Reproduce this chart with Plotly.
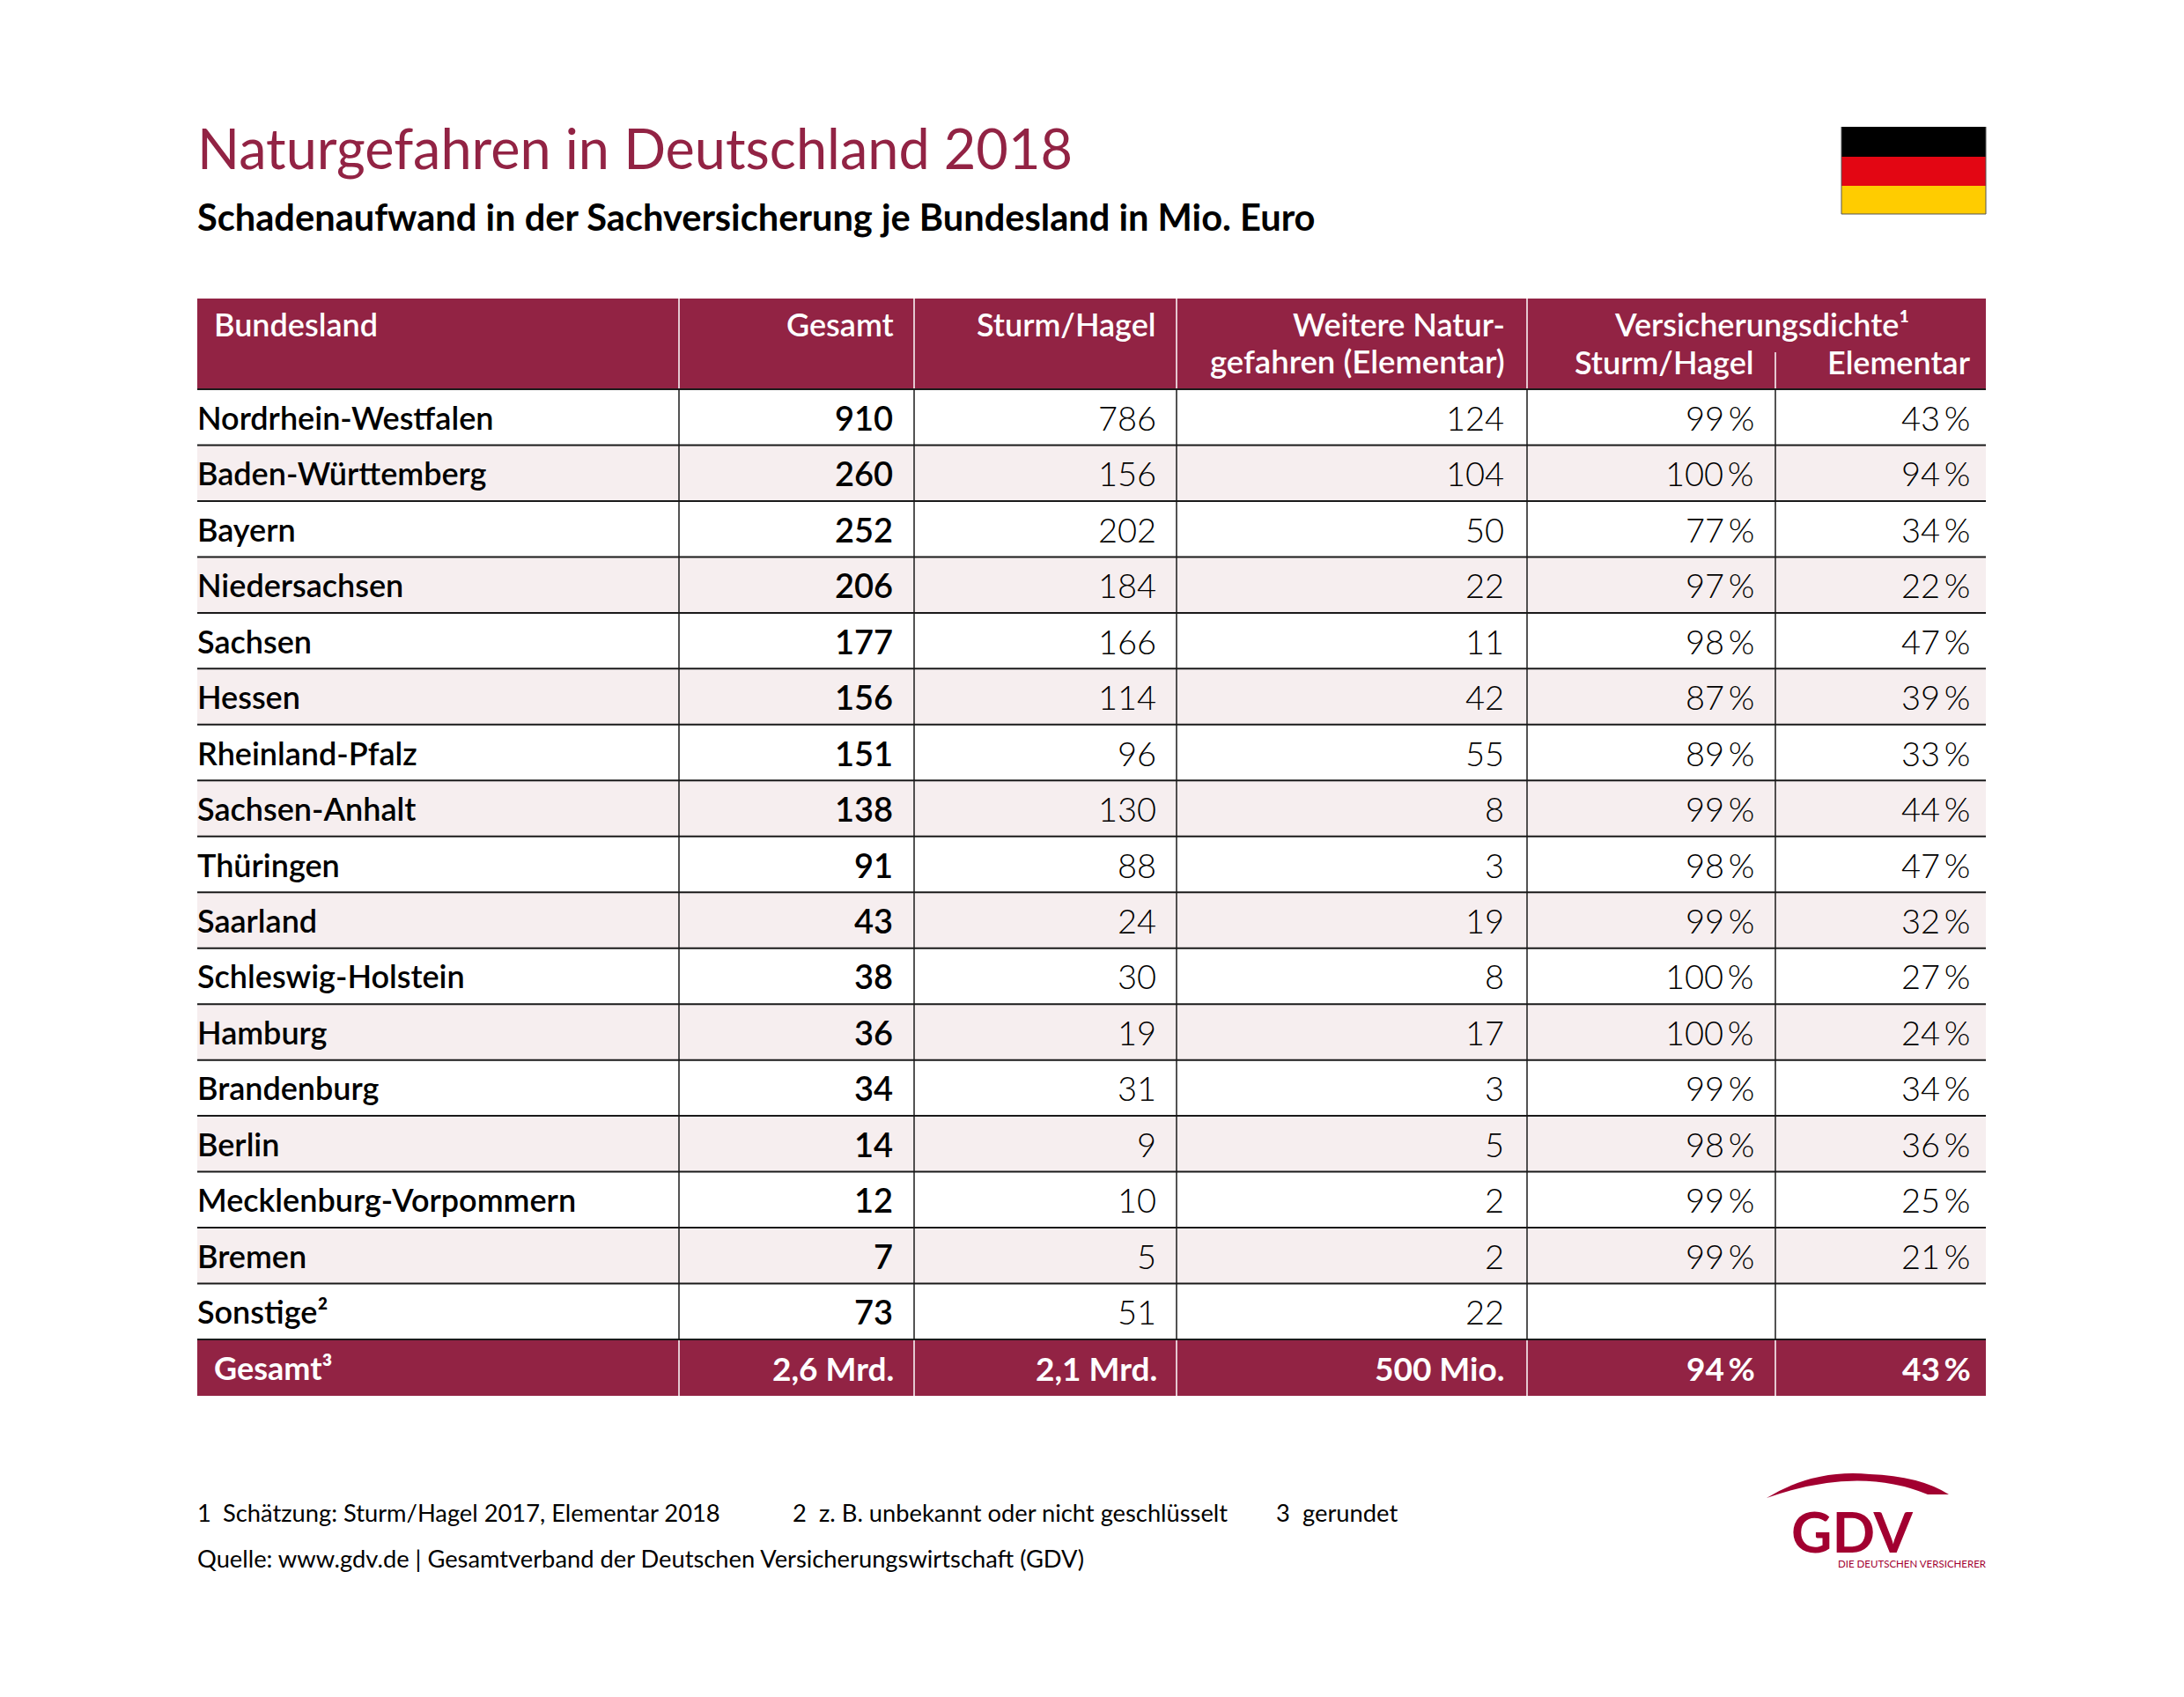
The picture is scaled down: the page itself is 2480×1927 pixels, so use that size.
import plotly.graph_objects as go

# table content
laender = ["Nordrhein-Westfalen", "Baden-Württemberg", "Bayern", "Niedersachsen", "Sachsen", "Hessen",
           "Rheinland-Pfalz", "Sachsen-Anhalt", "Thüringen", "Saarland", "Schleswig-Holstein", "Hamburg",
           "Brandenburg", "Berlin", "Mecklenburg-Vorpommern", "Bremen", "Sonstige²"]
gesamt = [910, 260, 252, 206, 177, 156, 151, 138, 91, 43, 38, 36, 34, 14, 12, 7, 73]
sturm_hagel = [786, 156, 202, 184, 166, 114, 96, 130, 88, 24, 30, 19, 31, 9, 10, 5, 51]
elementar = [124, 104, 50, 22, 11, 42, 55, 8, 3, 19, 8, 17, 3, 5, 2, 2, 22]
dichte_sturm = [99, 100, 77, 97, 98, 87, 89, 99, 98, 99, 100, 100, 99, 98, 99, 99, None]
dichte_elementar = [43, 94, 34, 22, 47, 39, 33, 44, 47, 32, 27, 24, 34, 36, 25, 21, None]
summe = ["Gesamt³", "2,6 Mrd.", "2,1 Mrd.", "500 Mio.", "94\u2009%", "43\u2009%"]

RED = "#922344"
STRIPE = "#f6eeef"
FONT = "Lato"

# pixel layout of the page
LEFT, RIGHT = 224, 2255
COLS = [771, 1038, 1336, 1734, 2016]
RIGHT_EDGE = [1014, 1313, 1708, 1992, 2237]
HEAD_TOP, HEAD_BOT = 339, 442
ROW_H = (1521 - 442) / 17
BOTTOM = 1585
PAGE_OFFSET = 8  # the browser's body margin

fig = go.Figure()
shapes = []
annos = []


def rect(x0, y0, x1, y1, color):
    shapes.append(dict(type="rect", x0=x0, y0=y0, x1=x1, y1=y1, fillcolor=color, line_width=0, layer="below"))


def line(x0, y0, x1, y1, color, w=1.5):
    shapes.append(dict(type="line", x0=x0, y0=y0, x1=x1, y1=y1, line=dict(color=color, width=w)))


def text(x, y, s, size=35, color="black", anchor="right", weight=400):
    annos.append(dict(x=x, y=y, text=s, showarrow=False, xanchor=anchor, yanchor="middle",
                      xref="x", yref="y", borderpad=0, borderwidth=0,
                      font=dict(family=FONT, size=size, color=color, weight=weight)))


# title block
text(LEFT, 167, "Naturgefahren in Deutschland 2018", 63, RED, "left")
text(LEFT, 246, "Schadenaufwand in der Sachversicherung je Bundesland in Mio. Euro", 41.6, "black", "left", 700)

# flag
rect(2091, 144, 2255, 178, "black")
rect(2091, 178, 2255, 211, "#e30613")
rect(2091, 211, 2255, 243, "#ffcc00")
line(2091, 243, 2255, 243, "#555555", 1)
line(2255, 144, 2255, 243, "#555555", 1)
line(2091, 144, 2091, 243, "#555555", 1)

# header band
rect(LEFT, HEAD_TOP, RIGHT, HEAD_BOT, RED)
rect(LEFT, HEAD_BOT + ROW_H * 17, RIGHT, BOTTOM, RED)
for c in COLS[:4]:
    line(c, HEAD_TOP, c, HEAD_BOT, "white")
    line(c, HEAD_BOT + ROW_H * 17, c, BOTTOM, "white")
line(COLS[4], 400, COLS[4], HEAD_BOT, "white")
line(COLS[4], HEAD_BOT + ROW_H * 17, COLS[4], BOTTOM, "white")

text(243, 368, "Bundesland", 36, "white", "left", 600)
text(RIGHT_EDGE[0] + 1, 368, "Gesamt", 36, "white", "right", 600)
text(RIGHT_EDGE[1], 368, "Sturm/Hagel", 36, "white", "right", 600)
text(RIGHT_EDGE[2] + 1, 368, "Weitere Natur-", 36, "white", "right", 600)
text(RIGHT_EDGE[2] + 1, 410, "gefahren (Elementar)", 36.5, "white", "right", 600)
text(2000, 368, "Versicherungsdichte¹", 36, "white", "center", 600)
text(RIGHT_EDGE[3], 411, "Sturm/Hagel", 36, "white", "right", 600)
text(RIGHT_EDGE[4] + 1, 411, "Elementar", 36, "white", "right", 600)

# body rows
for i, land in enumerate(laender):
    top = HEAD_BOT + ROW_H * i
    mid = top + ROW_H / 2
    if i % 2 == 1:
        rect(LEFT, top, RIGHT, top + ROW_H, STRIPE)
    line(LEFT, top, RIGHT, top, "#1a1a1a", 2)
    text(LEFT, mid, land, 36, "black", "left", 600)
    text(RIGHT_EDGE[0], mid, str(gesamt[i]), 38, "black", "right", 600)
    text(RIGHT_EDGE[1], mid, str(sturm_hagel[i]), 38, "black", "right", 300)
    text(RIGHT_EDGE[2], mid, str(elementar[i]), 38, "black", "right", 300)
    if dichte_sturm[i] is not None:
        text(RIGHT_EDGE[3], mid, f"{dichte_sturm[i]}\u2009%", 38, "black", "right", 300)
        text(RIGHT_EDGE[4], mid, f"{dichte_elementar[i]}\u2009%", 38, "black", "right", 300)
line(LEFT, HEAD_BOT + ROW_H * 17, RIGHT, HEAD_BOT + ROW_H * 17, "#1a1a1a", 2)
for c in COLS:
    line(c, HEAD_BOT, c, HEAD_BOT + ROW_H * 17, "#1a1a1a", 1.5)

# sum row
mid = HEAD_BOT + ROW_H * 17 + (BOTTOM - HEAD_BOT - ROW_H * 17) / 2
text(243, mid, summe[0], 36, "white", "left", 700)
for j in range(5):
    text(RIGHT_EDGE[j] + 1, mid, summe[j + 1], 37, "white", "right", 700)

# footnotes
text(LEFT, 1717, "1", 27.3, "black", "left")
text(253, 1717, "Schätzung: Sturm/Hagel 2017, Elementar 2018", 27.3, "black", "left")
text(900, 1717, "2", 27.3, "black", "left")
text(930, 1717, "z. B. unbekannt oder nicht geschlüsselt", 27.3, "black", "left")
text(1449, 1717, "3", 27.3, "black", "left")
text(1479, 1717, "gerundet", 27.3, "black", "left")
text(LEFT, 1769, "Quelle: www.gdv.de | Gesamtverband der Deutschen Versicherungswirtschaft (GDV)", 27.3, "black", "left")

# logo
shapes.append(dict(type="path", path="M 2006 1701 Q 2060 1668 2123 1674 Q 2180 1676 2213 1697 L 2189 1697 Q 2110 1664 2006 1701 Z",
                   fillcolor="#a20030", line_width=0))
text(2103, 1738, "GDV", 64, "#a20030", "center", 700)
text(2256, 1775, "DIE DEUTSCHEN VERSICHERER", 11.5, "#a20030", "right")

fig.update_layout(
    width=2480, height=1927,
    margin=dict(l=0, r=0, t=0, b=0),
    paper_bgcolor="white", plot_bgcolor="white",
    showlegend=False,
    shapes=shapes, annotations=annos,
    xaxis=dict(range=[PAGE_OFFSET, 2480 + PAGE_OFFSET], visible=False, fixedrange=True),
    yaxis=dict(range=[1927 + PAGE_OFFSET, PAGE_OFFSET], visible=False, fixedrange=True),
)
fig.write_html("out.html")
